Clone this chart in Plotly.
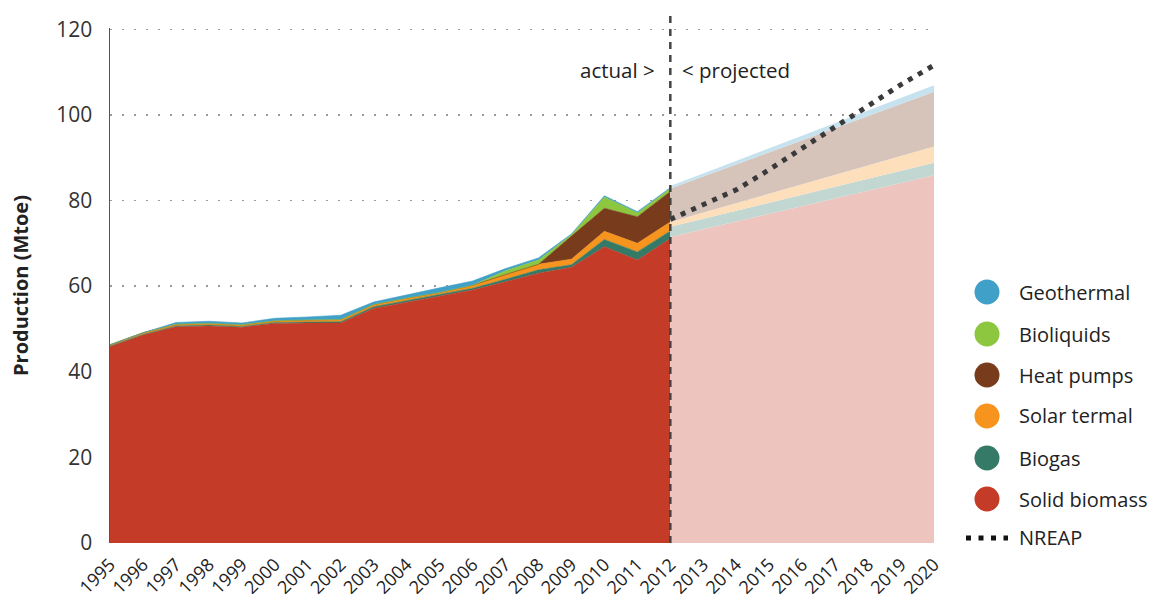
import plotly.graph_objects as go

# ---------------- data ----------------
years_actual = [1995, 1996, 1997, 1998, 1999, 2000, 2001, 2002, 2003, 2004,
                2005, 2006, 2007, 2008, 2009, 2010, 2011, 2012]
solid_biomass = [45.9, 48.6, 50.5, 50.7, 50.4, 51.3, 51.4, 51.4, 54.8, 56.2,
                 57.6, 59.1, 61.0, 63.0, 64.4, 69.2, 66.1, 71.1]
biogas = [0.1, 0.1, 0.2, 0.2, 0.2, 0.2, 0.2, 0.3, 0.4, 0.4,
          0.4, 0.4, 0.6, 0.8, 0.6, 1.7, 1.9, 1.8]
solar_termal = [0.3, 0.4, 0.4, 0.4, 0.4, 0.4, 0.5, 0.5, 0.5, 0.6,
                0.5, 0.7, 1.1, 1.3, 1.3, 1.9, 2.0, 2.1]
heat_pumps = [0, 0, 0, 0, 0, 0, 0, 0, 0, 0,
              0, 0, 0, 0, 5.4, 5.4, 6.2, 7.1]
bioliquids = [0, 0, 0, 0, 0, 0, 0, 0, 0, 0,
              0, 0, 0.9, 1.0, 0.3, 2.6, 0.9, 0.7]
geothermal = [0, 0, 0.4, 0.5, 0.4, 0.6, 0.7, 1.0, 0.6, 0.8,
              1.1, 1.0, 0.5, 0.5, 0.2, 0.3, 0.3, 0.2]

years_proj = [2012, 2020]
proj_solid_biomass = [71.5, 85.9]
proj_biogas = [2.4, 2.9]
proj_solar_termal = [1.1, 3.8]
proj_heat_pumps = [7.8, 12.8]
proj_bioliquids = [0.0, 0.0]
proj_geothermal = [0.6, 1.5]

years_nreap = [2012, 2013, 2014, 2015, 2016, 2017, 2018, 2019, 2020]
nreap = [75.6, 78.9, 82.5, 87.2, 92.3, 97.2, 102.1, 107.1, 111.6]

series_names = ["Solid biomass", "Biogas", "Solar termal", "Heat pumps", "Bioliquids", "Geothermal"]
series_colors = ["#C43B28", "#357A66", "#F7941D", "#783C1C", "#8DC63F", "#41A0C8"]
series_light = ["#EDC4BE", "#C2D7D1", "#FDDFBB", "#D6C4BB", "#DDEEC5", "#C6E2EE"]

x_ticks = list(range(1995, 2021))
y_ticks = [0, 20, 40, 60, 80, 100, 120]

# ---------------- figure ----------------
fig = go.Figure()

actual_vals = [solid_biomass, biogas, solar_termal, heat_pumps, bioliquids, geothermal]
proj_vals = [proj_solid_biomass, proj_biogas, proj_solar_termal, proj_heat_pumps,
             proj_bioliquids, proj_geothermal]

for name, vals, col in zip(series_names, actual_vals, series_colors):
    fig.add_trace(go.Scatter(
        x=years_actual, y=vals, name=name, mode="lines",
        stackgroup="actual", line=dict(width=0.6, color=col),
        fillcolor=col, showlegend=False, hoverinfo="skip"))

for name, vals, col in zip(series_names, proj_vals, series_light):
    fig.add_trace(go.Scatter(
        x=years_proj, y=vals, name=name + " (projected)", mode="lines",
        stackgroup="proj", line=dict(width=0, color=col),
        fillcolor=col, showlegend=False, hoverinfo="skip"))

fig.add_trace(go.Scatter(
    x=years_nreap, y=nreap, name="NREAP", mode="lines",
    line=dict(color="#3a3a3a", width=5, dash="5px,6.5px"),
    showlegend=False, hoverinfo="skip"))

# layout geometry (pixels)
L, R_EDGE, TOP120, ZERO = 110, 934, 29, 543
Y_MAX = 120.3
W = R_EDGE - L
H = round((ZERO - TOP120) * Y_MAX / 120)
B = 601 - ZERO
T = 601 - B - H

def px_to_paper(px, py):
    return (px - L) / W, (ZERO - py) / H

# vertical divider at 2012
_, ytop = px_to_paper(0, 15)
fig.add_shape(type="line", xref="x", yref="paper", x0=2012, x1=2012, y0=0, y1=ytop,
              line=dict(color="#444444", width=2.5, dash="7px,6px"), layer="above")

font_family = "Open Sans, Noto Sans, DejaVu Sans, sans-serif"

_, ya = px_to_paper(0, 70)
fig.add_annotation(x=2011.6, y=ya, xref="x", yref="paper", text="actual >",
                   showarrow=False, xanchor="right", yanchor="middle",
                   font=dict(size=20.5, color="#222222", family=font_family))
fig.add_annotation(x=2012.3, y=ya, xref="x", yref="paper", text="< projected",
                   showarrow=False, xanchor="left", yanchor="middle",
                   font=dict(size=20.5, color="#222222", family=font_family))

# ---------------- custom legend ----------------
legend_items = list(zip(series_names, series_colors))[::-1]
legend_y = [292, 334, 375, 416, 458, 499]
for (name, col), py in zip(legend_items, legend_y):
    cx, cy = px_to_paper(987, py)
    fig.add_shape(type="circle", xref="paper", yref="paper",
                  xsizemode="pixel", ysizemode="pixel", xanchor=cx, yanchor=cy,
                  x0=-12.5, x1=12.5, y0=-12.5, y1=12.5,
                  fillcolor=col, line=dict(width=0))
    tx, ty = px_to_paper(1017, py)
    fig.add_annotation(x=tx, y=ty, xref="paper", yref="paper", text=name,
                       showarrow=False, xanchor="left", yanchor="middle",
                       font=dict(size=20, color="#222222", family=font_family))

nx0, ny = px_to_paper(966, 538)
nx1, _ = px_to_paper(1008, 538)
fig.add_shape(type="line", xref="paper", yref="paper", x0=nx0, x1=nx1, y0=ny, y1=ny,
              line=dict(color="#111111", width=5, dash="5px,7.5px"))
tx, ty = px_to_paper(1017, 537)
fig.add_annotation(x=tx, y=ty, xref="paper", yref="paper", text="NREAP",
                   showarrow=False, xanchor="left", yanchor="middle",
                   font=dict(size=20, color="#222222", family=font_family))

fig.update_layout(
    width=1158, height=601,
    margin=dict(l=L, r=1158 - R_EDGE, t=T, b=B, autoexpand=False),
    paper_bgcolor="white", plot_bgcolor="white",
    showlegend=False, hovermode=False,
    font=dict(family=font_family, color="#222222"),
)
fig.update_xaxes(
    range=[1995, 2020], tickvals=x_ticks, ticktext=[str(y) for y in x_ticks],
    tickangle=-45, tickfont=dict(size=18, color="#222222"),
    showgrid=False, zeroline=False, showline=False, automargin=False,
    ticks="outside", ticklen=3, tickcolor="rgba(0,0,0,0)",
)
fig.update_yaxes(
    range=[0, Y_MAX], tickvals=y_ticks, tickfont=dict(size=21, color="#333333"),
    showgrid=True, gridcolor="#9a9a9a", gridwidth=1.5, griddash="2px,10px",
    zeroline=False, showline=True, linecolor="#555555", linewidth=1.5,
    ticks="outside", ticklen=12, tickcolor="rgba(0,0,0,0)", automargin=False,
    title=dict(text="<b>Production (Mtoe)</b>", font=dict(size=20, color="#222222"),
               standoff=22),
)

fig.write_html(
    "out.html",
    config={"displayModeBar": False, "staticPlot": True},
    post_script="document.body.style.margin='0';document.body.style.overflow='hidden';",
)
